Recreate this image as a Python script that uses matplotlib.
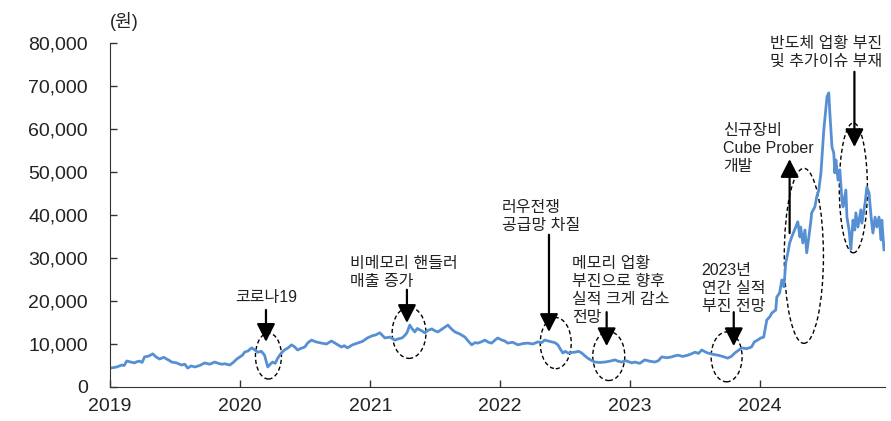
import matplotlib
matplotlib.use("Agg")
from matplotlib import pyplot as plt
from matplotlib.patches import Ellipse
import matplotlib.dates as mdates
import matplotlib.ticker as mticker
import pandas as pd

plt.rcParams['font.family'] = ['Liberation Sans', 'Noto Sans CJK KR', 'DejaVu Sans']

LINE_COLOR = "#5690D3"
TEXT_COLOR = "#222222"

# 주가 (원), 연도별
dates_2019 = ["2019-01-02", "2019-01-18", "2019-02-03", "2019-02-10", "2019-02-17", "2019-02-28",
              "2019-03-11", "2019-03-18", "2019-03-25", "2019-04-01", "2019-04-08", "2019-04-20",
              "2019-05-01", "2019-05-10", "2019-05-20", "2019-06-01", "2019-06-09", "2019-06-16",
              "2019-06-23", "2019-07-07", "2019-07-21", "2019-07-30", "2019-08-07", "2019-08-17",
              "2019-08-27", "2019-09-10", "2019-09-24", "2019-10-08", "2019-10-22", "2019-11-01",
              "2019-11-10", "2019-11-20", "2019-12-03", "2019-12-13", "2019-12-23"]
prices_2019 = [4420, 4600, 5100, 5000, 6050, 5800,
               5600, 5900, 6000, 5700, 7000, 7200,
               7700, 7000, 6500, 6900, 6500, 6200,
               5800, 5600, 5100, 5300, 4400, 4900,
               4650, 5000, 5600, 5300, 5800, 5500,
               5300, 5400, 5100, 5700, 6500]

dates_2020 = ["2020-01-08", "2020-01-14", "2020-01-24", "2020-02-03", "2020-02-10", "2020-02-20",
              "2020-03-01", "2020-03-10", "2020-03-19", "2020-03-26", "2020-04-02", "2020-04-09",
              "2020-04-16", "2020-04-26", "2020-05-05", "2020-05-15", "2020-05-25", "2020-06-03",
              "2020-06-11", "2020-06-21", "2020-07-01", "2020-07-10", "2020-07-20", "2020-08-01",
              "2020-08-17", "2020-08-31", "2020-09-14", "2020-09-28", "2020-10-12", "2020-10-20",
              "2020-10-29", "2020-11-12", "2020-11-26", "2020-12-10", "2020-12-24"]
prices_2020 = [7400, 8100, 8400, 9100, 8700, 8100,
               8300, 7400, 4650, 5300, 5800, 5500,
               6700, 7900, 8600, 9100, 9800, 9300,
               8600, 9000, 9300, 10300, 10900, 10500,
               10200, 10000, 10700, 10000, 9300, 9600,
               9100, 9800, 10200, 10600, 11400]

dates_2021 = ["2021-01-06", "2021-01-16", "2021-01-28", "2021-02-04", "2021-02-11", "2021-02-25",
              "2021-03-11", "2021-03-21", "2021-03-31", "2021-04-07", "2021-04-14", "2021-04-22",
              "2021-04-29", "2021-05-06", "2021-05-13", "2021-05-20", "2021-05-27", "2021-06-03",
              "2021-06-13", "2021-06-23", "2021-07-01", "2021-07-10", "2021-07-24", "2021-08-07",
              "2021-08-17", "2021-08-27", "2021-09-10", "2021-09-24", "2021-10-04", "2021-10-13",
              "2021-10-22", "2021-10-30", "2021-11-09", "2021-11-19", "2021-11-29", "2021-12-08",
              "2021-12-16", "2021-12-25"]
prices_2021 = [11900, 12100, 12600, 12000, 11400, 11600,
               10900, 11200, 11400, 11900, 12600, 14400,
               13500, 12800, 13600, 13300, 13000, 12600,
               13200, 13500, 13100, 12800, 13600, 14400,
               13500, 12800, 12300, 11600, 10600, 9800,
               10300, 10200, 10500, 10900, 10400, 10200,
               10800, 11400]

dates_2022 = ["2022-01-06", "2022-01-14", "2022-01-22", "2022-02-05", "2022-02-20", "2022-03-06",
              "2022-03-20", "2022-04-03", "2022-04-17", "2022-04-27", "2022-05-06", "2022-05-16",
              "2022-05-26", "2022-06-04", "2022-06-12", "2022-06-19", "2022-06-26", "2022-07-03",
              "2022-07-10", "2022-07-20", "2022-07-30", "2022-08-09", "2022-08-18", "2022-08-26",
              "2022-09-04", "2022-09-14", "2022-09-24", "2022-10-08", "2022-10-22", "2022-11-05",
              "2022-11-19", "2022-11-28", "2022-12-08", "2022-12-20"]
prices_2022 = [10900, 10700, 10200, 10400, 9800, 10100,
               10200, 10000, 10500, 10300, 10900, 10700,
               10500, 10300, 9800, 8800, 7900, 8300,
               7900, 8000, 8100, 8300, 7900, 7300,
               6700, 6200, 5800, 5700, 5800, 6000,
               6300, 6000, 5800, 6100]

dates_2023 = ["2023-01-06", "2023-01-14", "2023-01-28", "2023-02-11", "2023-02-25", "2023-03-11",
              "2023-03-21", "2023-03-31", "2023-04-14", "2023-04-28", "2023-05-05", "2023-05-15",
              "2023-05-29", "2023-06-12", "2023-06-22", "2023-07-02", "2023-07-12", "2023-07-21",
              "2023-07-30", "2023-08-07", "2023-08-21", "2023-09-04", "2023-09-18", "2023-10-02",
              "2023-10-12", "2023-10-22", "2023-11-01", "2023-11-10", "2023-11-24", "2023-12-08",
              "2023-12-16", "2023-12-25"]
prices_2023 = [5600, 5800, 5500, 6300, 6000, 5800,
               6100, 7000, 6800, 7000, 7200, 7400,
               7100, 7400, 7700, 8100, 7800, 8600,
               8200, 7900, 7600, 7400, 7100, 6700,
               7100, 7900, 8500, 9100, 8900, 9300,
               10500, 10900]

dates_2024 = ["2024-01-03", "2024-01-11", "2024-01-20", "2024-01-28", "2024-02-03", "2024-02-14",
              "2024-02-17", "2024-02-25", "2024-03-02", "2024-03-08", "2024-03-13", "2024-03-19",
              "2024-03-24", "2024-03-30", "2024-04-10", "2024-04-16", "2024-04-22", "2024-04-24",
              "2024-04-30", "2024-05-06", "2024-05-11", "2024-05-17", "2024-05-23", "2024-05-25",
              "2024-06-03", "2024-06-08", "2024-06-14", "2024-06-20", "2024-06-23", "2024-06-28",
              "2024-07-04", "2024-07-07", "2024-07-12", "2024-07-15", "2024-07-21", "2024-07-26",
              "2024-07-29", "2024-08-01", "2024-08-07", "2024-08-12", "2024-08-18", "2024-08-21",
              "2024-08-29", "2024-09-01", "2024-09-07", "2024-09-12", "2024-09-18", "2024-09-23",
              "2024-09-26", "2024-10-02", "2024-10-10", "2024-10-13", "2024-10-22", "2024-10-27",
              "2024-11-02", "2024-11-08", "2024-11-13", "2024-11-19", "2024-11-24", "2024-11-30",
              "2024-12-06", "2024-12-08", "2024-12-14"]
prices_2024 = [11400, 11600, 15600, 16300, 17200, 17900,
               20900, 21900, 24900, 23300, 28800, 31200,
               33500, 34900, 37200, 38400, 34900, 37200,
               33500, 36500, 31200, 34900, 38800, 40500,
               41900, 44200, 45800, 49800, 53500, 59800,
               65100, 67500, 68400, 63700, 55800, 54400,
               49800, 52800, 48100, 50500, 43500, 41900,
               45800, 39500, 36500, 32000, 38800, 36500,
               40500, 37200, 41200, 38100, 42800, 46500,
               45100, 39500, 35800, 39500, 37200, 39500,
               34200, 38800, 31900]

# 이벤트 주석: (텍스트, 텍스트 위치, 화살표 꼬리, 화살표 끝, 타원 중심, 타원 폭(일), 타원 높이)
events = [
    ("코로나19", ("2020-03-14", 20900, "center"), ("2020-03-14", 17900), ("2020-03-14", 10500),
     ("2020-03-21", 7200), 73, 10700),
    ("비메모리 핸들러\n매출 증가", ("2020-11-06", 26700, "left"), ("2021-04-14", 22600), ("2021-04-14", 14900),
     ("2021-04-20", 12600), 95, 11900),
    ("러우전쟁\n공급망 차질", ("2022-01-06", 39700, "left"), ("2022-05-18", 35400), ("2022-05-18", 12800),
     ("2022-06-06", 10200), 87, 11900),
    ("메모리 업황\n부진으로 향후\n실적 크게 감소\n전망", ("2022-07-21", 22400, "left"), ("2022-10-27", 17400),
     ("2022-10-27", 9500), ("2022-11-02", 7200), 90, 11400),
    ("2023년\n연간 실적\n부진 전망", ("2023-07-21", 23000, "left"), ("2023-10-19", 17400), ("2023-10-19", 9500),
     ("2023-09-29", 7000), 87, 11600),
    ("신규장비\nCube Prober\n개발", ("2023-09-18", 55400, "left"), ("2024-03-24", 35800), ("2024-03-24", 53000),
     ("2024-05-03", 30500), 110, 40700),
    ("반도체 업황 부진\n및 추가이슈 부재", ("2024-01-28", 77800, "left"), ("2024-09-22", 73300), ("2024-09-22", 55800),
     ("2024-09-19", 46300), 79, 30200),
]

df = pd.DataFrame({
    "date": pd.to_datetime(dates_2019 + dates_2020 + dates_2021 + dates_2022 + dates_2023 + dates_2024),
    "price": prices_2019 + prices_2020 + prices_2021 + prices_2022 + prices_2023 + prices_2024,
})

fig = plt.figure(figsize=(8.91, 4.21), dpi=100)
ax = fig.add_axes([0.1235, 0.0808, 0.8698, 0.8171])

ax.plot(df["date"], df["price"], color=LINE_COLOR, lw=2.0, solid_joinstyle="round")

for text, (tx, ty, ha), tail, tip, (ex, ey), ew, eh in events:
    ax.text(pd.Timestamp(tx), ty, text, ha=ha, va="center", fontsize=11.5,
            color=TEXT_COLOR, linespacing=1.25)
    ax.annotate("", xy=(pd.Timestamp(tip[0]), tip[1]), xytext=(pd.Timestamp(tail[0]), tail[1]),
                arrowprops=dict(arrowstyle="-|>,head_length=0.55,head_width=0.28",
                                mutation_scale=20, lw=1.6, color="black",
                                shrinkA=0, shrinkB=0))
    ax.add_patch(Ellipse((mdates.date2num(pd.Timestamp(ex)), ey), ew, eh,
                         fill=False, ls=(0, (3, 2)), lw=1.0, ec="black"))

ax.set_ylim(0, 80000)
ax.set_xlim(pd.Timestamp("2019-01-01"), pd.Timestamp("2024-12-17"))
ax.yaxis.set_major_locator(mticker.MultipleLocator(10000))
ax.yaxis.set_major_formatter(mticker.FuncFormatter(lambda v, p: f"{int(v):,}"))
ax.xaxis.set_major_locator(mdates.YearLocator())
ax.xaxis.set_major_formatter(mdates.DateFormatter("%Y"))

ax.spines["top"].set_visible(False)
ax.spines["right"].set_visible(False)
ax.spines["left"].set_color("#333333")
ax.spines["bottom"].set_color("#333333")
ax.tick_params(axis="both", direction="in", length=5, width=1, color="#333333",
               labelsize=14, labelcolor=TEXT_COLOR)
ax.tick_params(axis="y", pad=16)
ax.tick_params(axis="x", pad=8)

fig.text(0.14, 0.948, "(원)", ha="center", va="center", fontsize=13, color=TEXT_COLOR)

fig.savefig("out.png", dpi=100)
